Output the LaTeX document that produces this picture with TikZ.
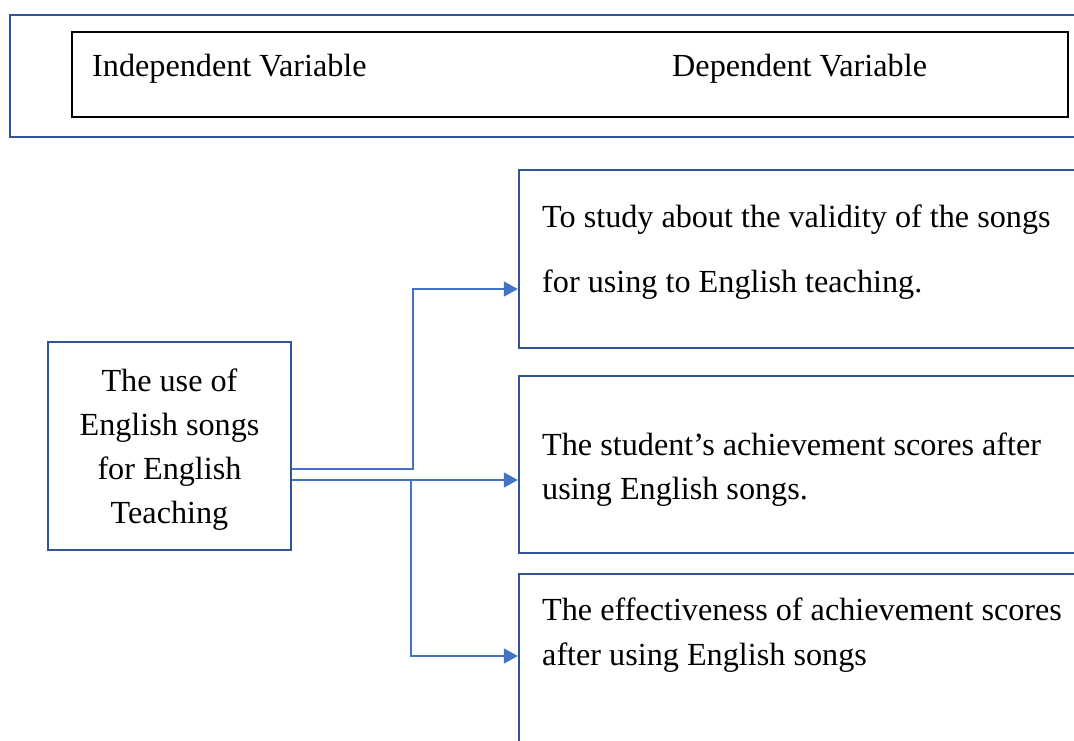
\documentclass[tikz,border=0pt]{standalone}
\usepackage{fontspec}
\setmainfont{Liberation Serif}
\usetikzlibrary{positioning,arrows.meta,calc}
\definecolor{frameblue}{HTML}{2F5597}
\definecolor{linkblue}{HTML}{4472C4}
\tikzset{
  linkarrow/.style={-{Triangle[length=14pt, width=15pt]}, line width=1.2pt, linkblue},
  bluebox/.style={draw=frameblue, line width=2.4pt, inner sep=0pt},
  plainbox/.style={draw=black, line width=1.1pt, inner sep=0pt},
  boxtext/.style={inner sep=0pt, font=\fontsize{32.2}{43.7}\selectfont}
}

\begin{document}
\begin{tikzpicture}[x=1pt, y=-1pt]
      \clip (0,0) rectangle (1074,740);
      \fill[white] (0,0) rectangle (1074,740);
      % heading strip
      \node[bluebox, minimum width=1080pt, minimum height=122pt] (frame) at (550,76) {};
      \node[plainbox, minimum width=996pt, minimum height=85pt] (varbox) at (570,74.5) {};
      \node[boxtext, anchor=base west] (indtext) at (92,76) {Independent Variable};
      \node[boxtext, anchor=base west] (deptext) at (672,76) {Dependent Variable};
      % independent variable
      \node[bluebox, minimum width=243pt, minimum height=208pt] (usebox) at (169.5,446) {};
      \node[boxtext, align=center, anchor=base] (usetext) at (169.5,523) {The use of\\English songs\\for English\\Teaching};
      % dependent variables
      \node[bluebox, minimum width=571pt, minimum height=178pt] (validbox) at (804.5,259) {};
      \node[bluebox, minimum width=571pt, minimum height=177pt] (scorebox) at (804.5,464.5) {};
      \node[bluebox, minimum width=571pt, minimum height=186pt] (effbox) at (804.5,667) {};
      \node[boxtext, align=left, anchor=base west, font=\fontsize{32.2}{65}\selectfont] (validtext) at (542,292)
        {To study about the validity of the songs\\for using to English teaching.};
      \node[boxtext, align=left, anchor=base west, font=\fontsize{32.2}{44}\selectfont] (scoretext) at (542,499)
        {The student’s achievement scores after\\using English songs.};
      \node[boxtext, align=left, anchor=base west, font=\fontsize{32.2}{45}\selectfont] (efftext) at (542,665)
        {The effectiveness of achievement scores\\after using English songs};
      % connectors
      \coordinate (upbend) at (413,469);
      \coordinate (downbend) at (411,480);
      \draw[linkarrow] (usebox.east |- upbend) -- (upbend) |- (validbox.west |- 0,289);
      \draw[linkarrow] (usebox.east |- downbend) -- (scorebox.west |- downbend);
      \draw[linkarrow] (downbend) |- (effbox.west |- 0,656);
    \end{tikzpicture}
\end{document}
